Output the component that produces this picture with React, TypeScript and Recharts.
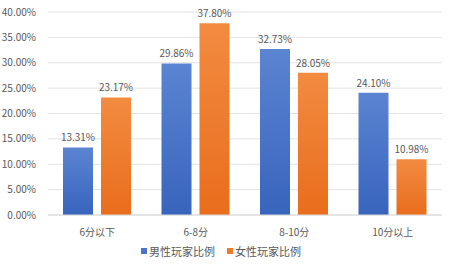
import React from "react";
import { BarChart, Bar, XAxis, YAxis, CartesianGrid, Legend, LabelList } from "recharts";

const categories = ["6分以下", "6-8分", "8-10分", "10分以上"];
const maleShare = [13.31, 29.86, 32.73, 24.1];
const femaleShare = [23.17, 37.8, 28.05, 10.98];
const yTicks = [0, 5, 10, 15, 20, 25, 30, 35, 40];
const seriesNames = ["男性玩家比例", "女性玩家比例"];
const seriesColors = ["#4a74c8", "#ee7b2c"];

const rows = categories.map((c, i) => ({ name: c, male: maleShare[i], female: femaleShare[i] }));

const FONT = '"Noto Sans CJK SC", "Noto Sans", sans-serif';
const pct = (v: number) => `${v.toFixed(2)}%`;

function LegendBox() {
    return (
        <div style={{ display: "flex", justifyContent: "center", gap: 12, fontSize: 11, color: "#595959", fontFamily: FONT }}>
            {seriesNames.map((n, i) => (
                <span key={n} style={{ display: "inline-flex", alignItems: "center", gap: 2 }}>
                    <span style={{ width: 6, height: 6, background: seriesColors[i], display: "inline-block" }} />
                    {n}
                </span>
            ))}
        </div>
    );
}

export default function App() {
    return (
        <div style={{ position: "absolute", left: 0, top: 0, width: 455, height: 271, background: "#fff", fontFamily: FONT }}>
            <BarChart
                width={455}
                height={271}
                data={rows}
                margin={{ top: 12, right: 13, left: 0, bottom: 12 }}
                barCategoryGap={15}
                barGap={8}
            >
                <defs>
                    <linearGradient id="gBlue" x1="0" y1="0" x2="0" y2="1">
                        <stop offset="0%" stopColor="#5b84d1" />
                        <stop offset="100%" stopColor="#3864bd" />
                    </linearGradient>
                    <linearGradient id="gOrange" x1="0" y1="0" x2="0" y2="1">
                        <stop offset="0%" stopColor="#f28b40" />
                        <stop offset="100%" stopColor="#e96d1c" />
                    </linearGradient>
                </defs>
                <CartesianGrid vertical={false} stroke="#e3e3e3" />
                <XAxis
                    dataKey="name"
                    height={28}
                    tickLine={false}
                    axisLine={{ stroke: "#d9d9d9" }}
                    tick={{ fontSize: 10, fill: "#595959", fontFamily: FONT }}
                    tickMargin={8}
                />
                <YAxis
                    width={48}
                    domain={[0, 40]}
                    ticks={yTicks}
                    tickFormatter={pct}
                    axisLine={false}
                    tickLine={false}
                    tick={{ fontSize: 10, fill: "#595959", fontFamily: FONT }}
                    tickMargin={6}
                />
                <Legend verticalAlign="bottom" content={<LegendBox />} />
                <Bar dataKey="male" name={seriesNames[0]} fill="url(#gBlue)" isAnimationActive={false}>
                    <LabelList dataKey="male" position="top" offset={6} formatter={(v: number) => pct(v)} style={{ fontSize: 10, fill: "#595959", fontFamily: FONT }} />
                </Bar>
                <Bar dataKey="female" name={seriesNames[1]} fill="url(#gOrange)" isAnimationActive={false}>
                    <LabelList dataKey="female" position="top" offset={6} formatter={(v: number) => pct(v)} style={{ fontSize: 10, fill: "#595959", fontFamily: FONT }} />
                </Bar>
            </BarChart>
        </div>
    );
}
